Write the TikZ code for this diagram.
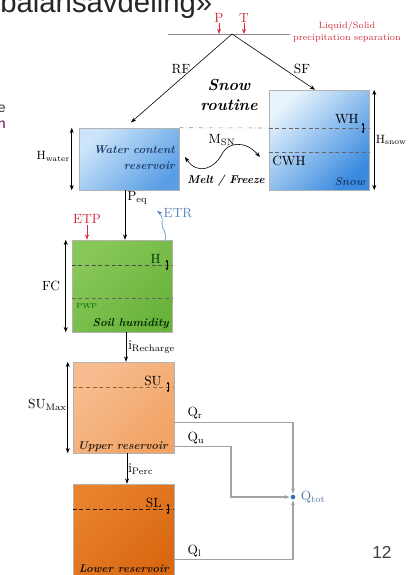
\documentclass[tikz,border=0pt]{standalone}
\usepackage{fontspec}
\newfontfamily\slidefont{Liberation Sans}
\usetikzlibrary{arrows.meta,positioning}

\definecolor{precred}{HTML}{D22B3A}
\definecolor{etrblue}{HTML}{5B85B5}
\definecolor{waterL}{HTML}{CDE5FA}
\definecolor{waterD}{HTML}{5A9FE5}
\definecolor{snowL}{HTML}{E8F4FD}
\definecolor{snowD}{HTML}{3A8ADF}
\definecolor{soilL}{HTML}{88C859}
\definecolor{soilD}{HTML}{6AB33B}
\definecolor{upL}{HTML}{F7BD90}
\definecolor{upD}{HTML}{F2A466}
\definecolor{lowL}{HTML}{E8822D}
\definecolor{lowD}{HTML}{DA6812}
\definecolor{navytxt}{HTML}{1E3F6E}
\definecolor{qblue}{HTML}{3E6FB3}
\definecolor{qgray}{HTML}{A3A3A3}

\newcommand\boxfont{\fontsize{8.5}{11.5}\selectfont\bfseries\itshape}

\begin{document}
\begin{tikzpicture}[x=0.75pt,y=0.75pt,yscale=-1,xscale=1,
  >={Stealth[length=4pt,width=3pt]},
  lbl/.style={inner sep=0.75pt, font=\fontsize{10}{12}\selectfont},
  redlbl/.style={lbl, text=precred},
  res/.style 2 args={draw=black!30, line width=0.4pt, inner sep=0pt,
    left color=#1, right color=#2, shading angle=45},
  lvl/.style={densely dashed, line width=0.45pt},
  arr/.style={->, line width=0.45pt},
  dbl/.style={<->, line width=0.45pt},
  tickarr/.style={{Stealth[length=2pt,width=2pt]}-{Stealth[length=2pt,width=2pt]}, line width=0.4pt},
  qline/.style={->, draw=qgray, line width=0.8pt, shorten >=0.5pt},
]
\useasboundingbox (0,0) rectangle (409,575);
\clip (0,0) rectangle (409,575);

% slide fragments
\node[anchor=base west, inner sep=0, font=\slidefont\fontsize{22}{24}\selectfont, text=black!85] (title) at (0,12) {balansavdeling»};
\node[anchor=base east, inner sep=0, font=\slidefont\fontsize{10.5}{12}\selectfont, text=black!80] (frag1) at (6,112) {e};
\node[anchor=base east, inner sep=0, font=\slidefont\fontsize{10.5}{12}\selectfont, text=violet!70!black] (frag2) at (6,128) {n};
\node[anchor=base west, inner sep=0, font=\slidefont\fontsize{13}{15}\selectfont, text=black!75] (pageno) at (372,558) {12};

% precipitation separation
\coordinate (sepL) at (168,34);
\coordinate (sepR) at (290,34);
\coordinate (apex) at (232,34);
\draw[black!45, line width=0.5pt] (sepL) -- (sepR);
\node[redlbl] (P) at (219,17.5) {P};
\node[redlbl] (T) at (244,17.5) {T};
\draw[->, precred, line width=0.45pt] (P.south) -- (P.south |- apex);
\draw[->, precred, line width=0.45pt] (T.south) -- (T.south |- apex);
\node[align=center, inner sep=0, text=precred, font=\fontsize{6.8}{8.3}\selectfont] (liq) at (347,32) {Liquid/Solid\\precipitation separation};

% reservoirs
\node[res={waterL}{waterD}, minimum width=75pt, minimum height=46.5pt] (water) at (129,159) {};
\node[res={snowL}{snowD}, minimum width=75pt, minimum height=75pt] (snow) at (319,140) {};
\node[res={soilL}{soilD}, minimum width=75pt, minimum height=69pt] (soil) at (122,286) {};
\node[res={upL}{upD}, minimum width=75.75pt, minimum height=68.25pt] (upper) at (123.5,407.5) {};
\node[res={lowL}{lowD}, minimum width=75.75pt, minimum height=70.5pt] (lower) at (123.5,531) {};

% snow routine
\node[lbl] (RF) at (181,69) {RF};
\node[lbl] (SF) at (302,69) {SF};
\draw[arr] (apex) -- ([xshift=1.5pt,yshift=-4pt]water.north);
\draw[arr] (apex) -- ([xshift=-3pt]snow.north);
\node[align=center, inner sep=0, font=\fontsize{12}{14.5}\selectfont\bfseries\itshape] (routine) at (229,95) {Snow\\routine};

\coordinate (lvWH) at (0,128);
\coordinate (lvCWH) at (0,152);
\draw[black!45, dash dot, line width=0.45pt] (water.north east) -- (snow.west |- lvWH);
\draw[lvl, black!60] (snow.west |- lvWH) -- (snow.east |- lvWH);
\draw[lvl, black!60] (snow.west |- lvCWH) -- (snow.east |- lvCWH);
\node[lbl, anchor=base east] (wh) at (360,123) {WH};
\coordinate (whm) at (363,128);
\draw[tickarr] ([yshift=4pt]whm) -- ([yshift=-4pt]whm);
\node[lbl, anchor=base west] (cwh) at (271,165) {CWH};
\node[anchor=base east, inner sep=0, font=\boxfont, text=navytxt] (snowtxt) at (365,185) {Snow};
\node[anchor=base east, inner sep=0, align=right, font=\boxfont, text=navytxt] (watertxt) at (175,169) {Water content\\reservoir};

\draw[dbl] ([xshift=3.75pt]snow.north east) -- ([xshift=3.75pt]snow.south east)
  node[midway, right, inner sep=1pt, font=\fontsize{9}{10}\selectfont] (hsnow) {H\textsubscript{snow}};
\draw[dbl] ([xshift=-5.25pt]water.north west) -- ([xshift=-5.25pt]water.south west)
  node[midway, left, inner sep=1pt, yshift=2pt, font=\fontsize{9}{10}\selectfont] (hwater) {H\textsubscript{water}};

% melt / freeze
\node[lbl] (msn) at (222,140) {M\textsubscript{SN}};
\coordinate (mfL) at (185,157);
\coordinate (mfR) at (260,157);
\draw[<->, line width=0.45pt] (mfL) .. controls (198,176) and (215,168) .. (222,154) .. controls (228,142) and (245,140) .. (mfR);
\node[inner sep=0, font=\boxfont] (melt) at (226,181) {Melt / Freeze};

% soil
\coordinate (peqx) at (125,0);
\draw[arr] (water.south -| peqx) -- (soil.north -| peqx);
\node[lbl, anchor=north west] (peq) at (126,190) {P\textsubscript{eq}};
\node[redlbl] (etp) at (87,219) {ETP};
\draw[->, precred, line width=0.45pt] (etp.south) -- (etp.south |- soil.north);
\node[lbl, text=etrblue] (etr) at (178,213) {ETR};
\coordinate (etrS) at (165,240);
\draw[->, etrblue, line width=0.45pt] (etrS) .. controls (168,233) and (161,229) .. (162,223) .. controls (163,217) and (160,213) .. (157,211);

\coordinate (lvH) at (0,265);
\coordinate (lvPWP) at (0,298);
\draw[lvl, black!70] (soil.west |- lvH) -- (soil.east |- lvH);
\draw[lvl, black!60] (soil.west |- lvPWP) -- (soil.east |- lvPWP);
\node[lbl, anchor=base east, text=black!80!green] (hl) at (162,263) {H};
\coordinate (hm) at (167,265);
\draw[tickarr] ([yshift=4pt]hm) -- ([yshift=-4pt]hm);
\node[anchor=base west, inner sep=0, font=\fontsize{5.5}{6}\selectfont, text=green!35!black] (pwp) at (76,308) {PWP};
\node[anchor=base east, inner sep=0, font=\boxfont, text=black!85!green] (soiltxt) at (169,326) {Soil humidity};
\draw[dbl] ([xshift=-4.5pt]soil.north west) -- ([xshift=-4.5pt]soil.south west)
  node[midway, left, inner sep=1pt, xshift=-3pt, font=\fontsize{10}{12}\selectfont] (fc) {FC};

% upper reservoir
\coordinate (rchx) at (126,0);
\draw[arr] (soil.south -| rchx) -- (upper.north -| rchx);
\node[lbl, anchor=west] (rch) at (127,347) {i\textsubscript{Recharge}};
\coordinate (lvSU) at (0,387);
\draw[lvl, brown!80!black, line width=0.6pt] (upper.west |- lvSU) -- (upper.east |- lvSU);
\node[lbl, anchor=base east] (su) at (163,385) {SU};
\coordinate (sum) at (168,387);
\draw[tickarr] ([yshift=4pt]sum) -- ([yshift=-4pt]sum);
\node[anchor=base east, inner sep=0, font=\boxfont, text=black!75!brown] (uptxt) at (168,449) {Upper reservoir};
\draw[dbl] ([xshift=-3.75pt]upper.north west) -- ([xshift=-3.75pt]upper.south west)
  node[midway, left, inner sep=0.5pt, yshift=2pt, font=\fontsize{10}{12}\selectfont] (sumax) {SU\textsubscript{Max}};

% lower reservoir
\coordinate (prcx) at (127,0);
\draw[arr] (upper.south -| prcx) -- (lower.north -| prcx);
\node[lbl, anchor=west] (perc) at (127,469) {i\textsubscript{Perc}};
\coordinate (lvSL) at (0,509);
\draw[lvl, black!80!brown] (lower.west |- lvSL) -- (lower.east |- lvSL);
\node[lbl, anchor=base east] (sl) at (163,507) {SL};
\coordinate (slm) at (168,509);
\draw[tickarr] ([yshift=4pt]slm) -- ([yshift=-4pt]slm);
\node[anchor=base east, inner sep=0, font=\boxfont, text=black!85!brown] (lowtxt) at (169,572) {Lower reservoir};

% discharge
\node[circle, fill=qblue, inner sep=0, minimum size=3.5pt] (qtot) at (293,497) {};
\node[lbl, anchor=west, text=qblue!70!gray, xshift=3pt] (qtotl) at (qtot.east) {Q\textsubscript{tot}};
\coordinate (qrS) at ([yshift=11pt]upper.east);
\coordinate (quS) at ([yshift=29.5pt]upper.east);
\coordinate (qlS) at ([yshift=21.5pt]lower.east);
\coordinate (quB) at (231,0);
\draw[qline] (qrS) -| (qtot);
\draw[qline] (quS) -| (quB |- qtot) -- (qtot);
\draw[qline] (qlS) -| (qtot);
\node[lbl, anchor=south west] (qr) at ([xshift=9pt,yshift=-1pt]qrS) {Q\textsubscript{r}};
\node[lbl, anchor=south west] (qu) at ([xshift=9pt,yshift=-1pt]quS) {Q\textsubscript{u}};
\node[lbl, anchor=south west] (ql) at ([xshift=9pt,yshift=-1pt]qlS) {Q\textsubscript{l}};

\end{tikzpicture}
\end{document}
